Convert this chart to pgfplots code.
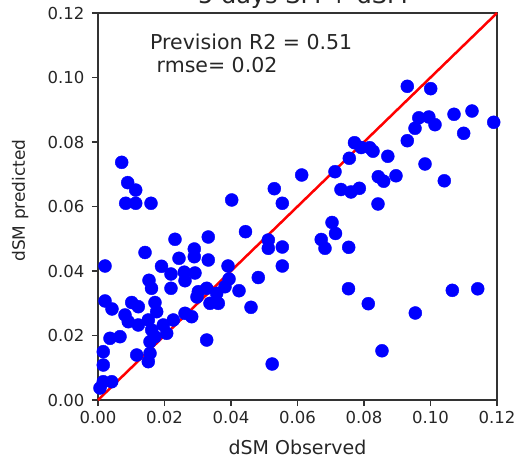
\documentclass[border=0pt]{standalone}
\usepackage{pgfplots}
\pgfplotsset{compat=1.18}
\usepackage{fontspec}
\setmainfont{DejaVu Sans}
\begin{document}
\begin{tikzpicture}
\useasboundingbox (-98bp,-62bp) rectangle (423bp,400bp);
\begin{axis}[
  at={(0,0)}, anchor=south west,
  width=399bp, height=387bp, scale only axis,
  xmin=0, xmax=0.12, ymin=0, ymax=0.12,
  xtick={0,0.02,0.04,0.06,0.08,0.10,0.12},
  ytick={0,0.02,0.04,0.06,0.08,0.10,0.12},
  xtick pos=left, ytick pos=left,
  tick align=outside,
  major tick length=6bp,
  every tick/.style={black!80, line width=1.2bp},
  axis line style={black!80, line width=1.2bp},
  /pgf/number format/assume math mode=true,
  /pgf/number format/.cd, fixed, zerofill, precision=2, /pgfplots/.cd,
  scaled ticks=false,
  ticklabel style={font=\fontsize{16.5bp}{20bp}\selectfont, text=black!85},
  xticklabel style={yshift=-2bp},
  yticklabel style={xshift=-4bp},
  xlabel={dSM Observed},
  ylabel={dSM predicted},
  xlabel style={font=\fontsize{19bp}{22bp}\selectfont, text=black!85, at={(axis description cs:0.5,0)}, anchor=base, yshift=-54bp},
  ylabel style={font=\fontsize{17bp}{20bp}\selectfont, text=black!85, at={(axis description cs:0,0.5)}, anchor=base, yshift=73bp, xshift=6bp},
  clip=false,
]
\addplot[only marks, mark=*, mark size=6.5bp, color=blue, mark options={draw=blue, fill=blue}] coordinates {
(0.00713,0.0737) (0.00893,0.0674) (0.01134,0.0651) (0.00833,0.0610) (0.01134,0.0610)
(0.01594,0.0610) (0.00211,0.04155) (0.01414,0.04574) (0.02316,0.04983) (0.03317,0.05054)
(0.02896,0.04682) (0.02896,0.04443) (0.02436,0.04394) (0.0191,0.04146) (0.03317,0.04341)
(0.02195,0.03907) (0.02595,0.03963) (0.02917,0.03938) (0.02617,0.03699) (0.01534,0.03712)
(0.01609,0.03464) (0.02195,0.03464) (0.00211,0.0307) (0.00421,0.02822) (0.01014,0.03023)
(0.01212,0.02893) (0.01714,0.03023) (0.01765,0.02738) (0.00812,0.02636) (0.00911,0.02428)
(0.01212,0.02326) (0.01513,0.02481) (0.01615,0.02171) (0.01964,0.02326) (0.02265,0.02481)
(0.02066,0.02068) (0.01714,0.01963) (0.01564,0.01808) (0.02617,0.02688) (0.02818,0.02583)
(0.03269,0.0186) (0.00361,0.01913) (0.00662,0.01963) (0.00159,0.01498) (0.00159,0.01085)
(0.01164,0.01395) (0.01564,0.01448) (0.01513,0.01188) (0.00159,0.00567) (0.00412,0.00567)
(0.0006,0.00372) (0.03017,0.03358) (0.03269,0.03464) (0.02977,0.03194) (0.03368,0.02998)
(0.03618,0.02998) (0.0357,0.03308) (0.0382,0.03513) (0.0391,0.04155) (0.0394,0.03752)
(0.04241,0.03389) (0.04021,0.06202) (0.04436,0.05219) (0.05122,0.04961) (0.05122,0.04704)
(0.05543,0.04744) (0.05543,0.04155) (0.04821,0.03798) (0.04602,0.02874) (0.05239,0.01116)
(0.05302,0.06552) (0.05543,0.0610) (0.06126,0.06977) (0.07128,0.07079) (0.07308,0.06527)
(0.07609,0.0645) (0.07859,0.06564) (0.08421,0.06078) (0.07038,0.05504) (0.07143,0.05163)
(0.06713,0.04977) (0.06827,0.04704) (0.0754,0.04735) (0.07534,0.03451) (0.08129,0.02986)
(0.09543,0.02698) (0.08541,0.01526) (0.10656,0.03401) (0.1142,0.03448) (0.09302,0.09727)
(0.10006,0.09653) (0.09648,0.0875) (0.09949,0.08775) (0.09534,0.08425) (0.10135,0.08537)
(0.10707,0.08859) (0.11248,0.08961) (0.11901,0.08611) (0.10998,0.0827) (0.09302,0.0804)
(0.07714,0.07978) (0.08171,0.07823) (0.07916,0.07829) (0.08271,0.07715) (0.07558,0.07495)
(0.08716,0.07557) (0.09835,0.07318) (0.0843,0.06924) (0.08592,0.06784) (0.08962,0.06952)
(0.10415,0.06797)
};
\addplot[color=red, line width=2.5bp] coordinates {(0,0) (0.12,0.12)};
\end{axis}
\node[anchor=base west, font=\fontsize{20.5bp}{24bp}\selectfont, text=black!85, inner sep=0pt] at (52bp,350bp) {Prevision R2 = 0.51};
\node[anchor=base west, font=\fontsize{20.5bp}{24bp}\selectfont, text=black!85, inner sep=0pt] at (52bp,327bp) {\ rmse= 0.02};
\node[anchor=base, font=\fontsize{24bp}{28bp}\selectfont, text=black!85, inner sep=0pt] at (205bp,396bp) {5 days SM + dSM};
\end{tikzpicture}
\end{document}
